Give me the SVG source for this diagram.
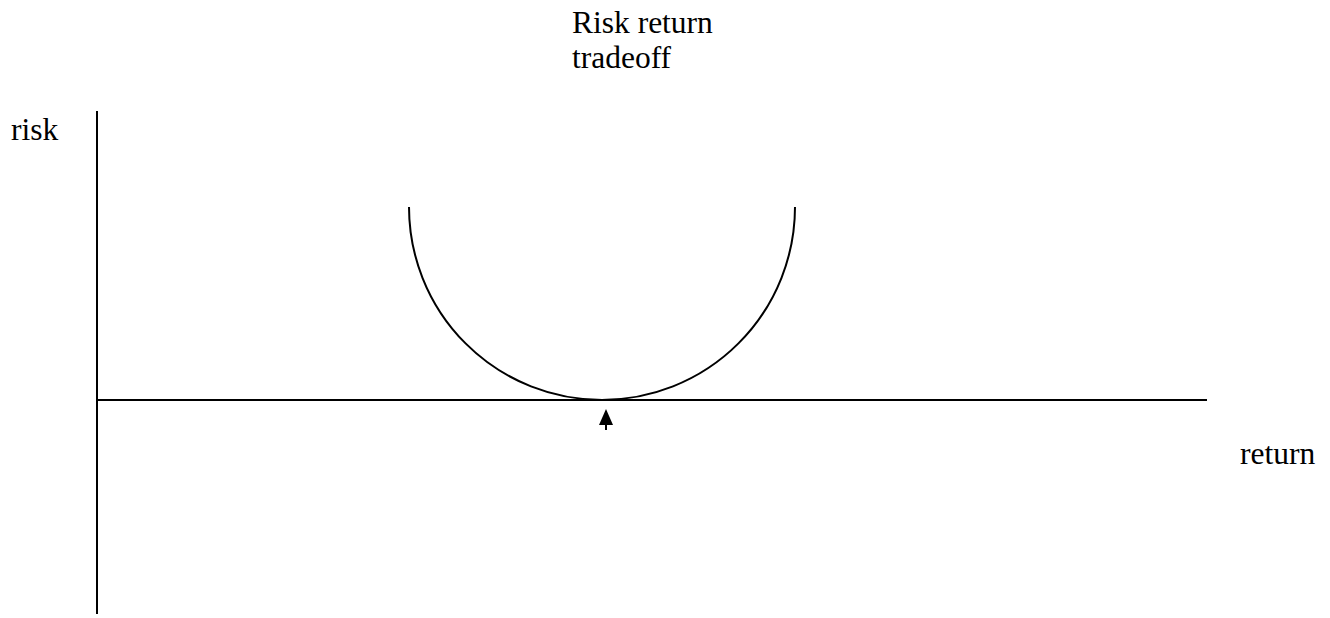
<svg xmlns="http://www.w3.org/2000/svg" width="1330" height="618" viewBox="0 0 1330 618">
<style>
.t{font-family:"Liberation Serif","Times New Roman",serif;font-size:31.5px;fill:#000}
.l{stroke:#000;stroke-width:2;fill:none}
</style>
<g id="title"><text class="t" x="572" y="33">Risk return</text><text class="t" x="572" y="68">tradeoff</text></g>
<g id="risk-label"><text class="t" x="11" y="140">risk</text></g>
<g id="return-label"><text class="t" x="1240" y="464">return</text></g>
<g id="axes">
<line class="l" x1="97" y1="111" x2="97" y2="614"/>
<line class="l" x1="97" y1="400" x2="1207" y2="400"/>
</g>
<g id="curve"><path class="l" d="M409,207 A193,193 0 0 0 795,207"/></g>
<g id="connectors">
<line x1="606" y1="430" x2="606" y2="411" stroke="#000" stroke-width="2"/>
<path d="M599,425 L606,409 L613,425 Z" fill="#000"/>
</g>
</svg>
